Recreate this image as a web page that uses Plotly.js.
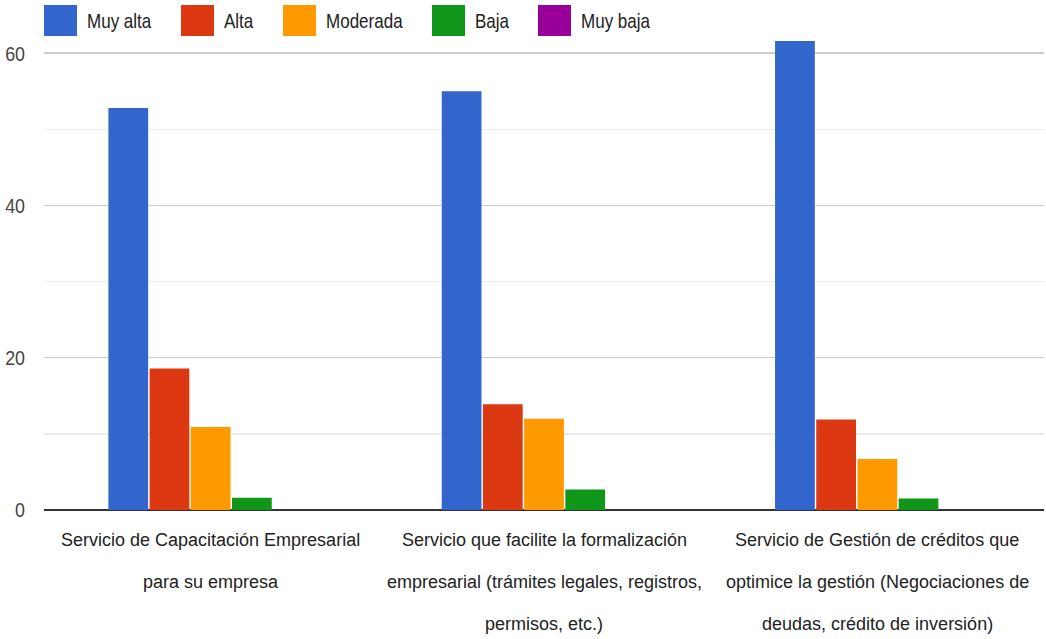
<!DOCTYPE html>
<html>
<head>
<meta charset="utf-8">
<script src="https://cdn.plot.ly/plotly-3.0.1.min.js"></script>
<style>html,body{margin:0;padding:0;background:#fff;}#chart{width:1046px;height:639px;}</style>
</head>
<body>
<div id="chart"></div>
<script>
// ---- data ----
var categories = [
  'Servicio de Capacitación Empresarial para su empresa',
  'Servicio que facilite la formalización empresarial (trámites legales, registros, permisos, etc.)',
  'Servicio de Gestión de créditos que optimice la gestión (Negociaciones de deudas, crédito de inversión)'
];
var categoryLines = [
  ['Servicio de Capacitación Empresarial', 'para su empresa'],
  ['Servicio que facilite la formalización', 'empresarial (trámites legales, registros,', 'permisos, etc.)'],
  ['Servicio de Gestión de créditos que', 'optimice la gestión (Negociaciones de', 'deudas, crédito de inversión)']
];
var seriesNames = ['Muy alta', 'Alta', 'Moderada', 'Baja', 'Muy baja'];
var muyAlta = [52.8, 55.0, 61.6];
var alta    = [18.6, 13.9, 11.9];
var moderada= [10.9, 12.0, 6.7];
var baja    = [1.6, 2.7, 1.5];
var muyBaja = [0, 0, 0];
var yTickVals = [0, 20, 40, 60];

// ---- style ----
var seriesValues = [muyAlta, alta, moderada, baja, muyBaja];
var colors = ['#3366cc', '#dc3912', '#ff9900', '#109618', '#990099'];
var W = 1046, H = 639;
var M = {l: 44, r: 2, t: 38, b: 129};
var FONT = '"Liberation Sans", Arial, sans-serif';
var LABEL_SIZE = 18;
var LEGEND_SIZE = 21, LEGEND_SQUEEZE = 0.81;
var TICK_SIZE = 21, TICK_SQUEEZE = 0.85;

function pxX(px) { return (px - M.l) / (W - M.l - M.r); }
function pxY(py) { return (H - M.b - py) / (H - M.t - M.b); }

var traces = seriesNames.map(function (name, i) {
  return {
    type: 'bar',
    name: name,
    x: categories,
    y: seriesValues[i],
    marker: {color: colors[i], line: {width: 0}},
    hoverinfo: 'name+y'
  };
});

var shapes = [];
var annotations = [];

// custom legend (large square swatches)
var legendLeft = [44, 181, 283, 432, 538];
seriesNames.forEach(function (name, i) {
  var x0 = legendLeft[i];
  shapes.push({
    type: 'rect', xref: 'paper', yref: 'paper',
    x0: pxX(x0), x1: pxX(x0 + 33), y0: pxY(36), y1: pxY(5),
    fillcolor: colors[i], line: {width: 0}, layer: 'above'
  });
  annotations.push({
    xref: 'paper', yref: 'paper', x: pxX(x0 + 42), y: pxY(21),
    xanchor: 'left', yanchor: 'middle', align: 'left', showarrow: false,
    borderpad: 0,
    text: name, font: {family: FONT, size: LEGEND_SIZE, color: '#222222'}
  });
});

// category labels with wide line spacing
var lineCenters = [30, 72, 114];
categories.forEach(function (cat, ci) {
  categoryLines[ci].forEach(function (line, li) {
    annotations.push({
      xref: 'x', yref: 'paper', x: cat, y: 0,
      xanchor: 'center', yanchor: 'middle', yshift: -lineCenters[li],
      showarrow: false, text: line, borderpad: 0,
      font: {family: FONT, size: LABEL_SIZE, color: '#222222'}
    });
  });
});

var layout = {
  width: W, height: H,
  margin: M,
  paper_bgcolor: '#ffffff', plot_bgcolor: '#ffffff',
  barmode: 'group',
  bargap: 0.382,
  bargroupgap: 0.035,
  showlegend: false,
  font: {family: FONT, size: LABEL_SIZE, color: '#444444'},
  xaxis: {
    type: 'category',
    range: [-0.5, 2.5],
    autorange: false,
    showticklabels: false,
    showgrid: false, zeroline: false, showline: false, ticks: ''
  },
  yaxis: {
    range: [0, 62],
    autorange: false,
    tickvals: yTickVals,
    ticktext: yTickVals.map(String),
    ticks: '',
    ticklabelstandoff: 18,
    tickfont: {family: FONT, size: TICK_SIZE, color: '#444444'},
    showgrid: true, gridcolor: '#cccccc', gridwidth: 1.5,
    minor: {dtick: 10, tick0: 0, showgrid: true, gridcolor: '#ebebeb', gridwidth: 1.5, ticks: ''},
    zeroline: true, zerolinecolor: '#333333', zerolinewidth: 2,
    showline: false, fixedrange: true
  },
  shapes: shapes,
  annotations: annotations
};

function squeeze(t, f) {
  var len = t.getComputedTextLength();
  if (len > 0) {
    t.setAttribute('textLength', (len * f).toFixed(2));
    t.setAttribute('lengthAdjust', 'spacingAndGlyphs');
  }
}

Plotly.newPlot('chart', traces, layout, {displayModeBar: false, staticPlot: true}).then(function (gd) {
  gd.querySelectorAll('.annotation').forEach(function (g, i) {
    if (i >= seriesNames.length) return;
    var t = g.querySelector('.annotation-text');
    if (t) squeeze(t, LEGEND_SQUEEZE);
  });
  gd.querySelectorAll('.ytick text').forEach(function (t) { squeeze(t, TICK_SQUEEZE); });
});
</script>
</body>
</html>
